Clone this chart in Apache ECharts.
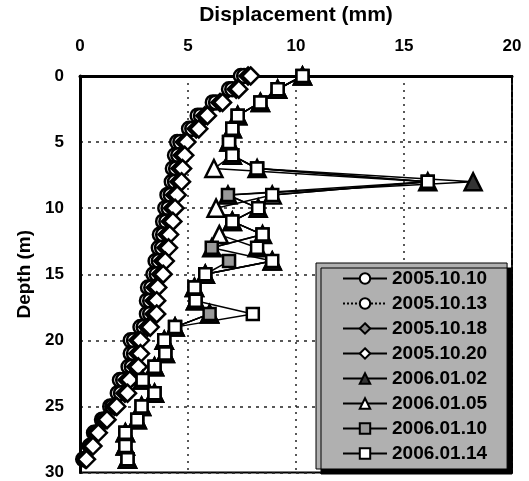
<!DOCTYPE html>
<html>
<head>
<meta charset="utf-8">
<script src="https://cdn.jsdelivr.net/npm/echarts@6/dist/echarts.min.js"></script>
<style>
  html, body { margin: 0; padding: 0; background: #fff; }
  #chart { width: 529px; height: 481px; }
</style>
</head>
<body>
<div id="chart"></div>
<script>
const depth = [0, 1, 2, 3, 4, 5, 6, 7, 8, 9, 10, 11, 12, 13, 14, 15, 16, 17, 18, 19, 20, 21, 22, 23, 24, 25, 26, 27, 28, 29];

// displacement (mm) per depth
const d20051010 = [7.45, 6.9, 6.15, 5.45, 5.05, 4.5, 4.4, 4.3, 4.25, 4.05, 3.95, 3.85, 3.7, 3.65, 3.5, 3.4, 3.15, 3.1, 3.1, 2.8, 2.35, 2.35, 2.25, 1.85, 1.75, 1.4, 1.02, 0.65, 0.45, 0.15];
const d20051013 = [7.6, 7.05, 6.3, 5.6, 5.2, 4.65, 4.55, 4.45, 4.4, 4.2, 4.1, 4.0, 3.85, 3.8, 3.65, 3.55, 3.3, 3.25, 3.25, 2.95, 2.5, 2.5, 2.4, 2.0, 1.9, 1.5, 1.1, 0.72, 0.5, 0.2];
const d20051018 = [7.78, 7.23, 6.48, 5.78, 5.38, 4.83, 4.73, 4.63, 4.58, 4.38, 4.28, 4.18, 4.03, 3.98, 3.83, 3.73, 3.48, 3.43, 3.43, 3.13, 2.68, 2.68, 2.58, 2.18, 2.08, 1.6, 1.17, 0.78, 0.54, 0.25];
const d20051020 = [7.9, 7.35, 6.6, 5.9, 5.5, 4.95, 4.85, 4.75, 4.7, 4.5, 4.4, 4.3, 4.15, 4.1, 3.95, 3.85, 3.6, 3.55, 3.55, 3.25, 2.8, 2.8, 2.7, 2.3, 2.2, 1.7, 1.25, 0.85, 0.6, 0.3];
const d20060102 = [10.3, 9.15, 8.35, 7.3, 7.05, 6.9, 7.05, 8.2, 18.2, 6.85, 8.25, 7.05, 8.45, 6.1, 8.9, 5.8, 5.3, 5.35, 6.0, 4.4, 3.9, 3.95, 3.45, 2.9, 3.45, 2.85, 2.65, 2.1, 2.1, 2.2];
const d20060105 = [10.3, 9.15, 8.35, 7.3, 7.05, 6.9, 7.05, 6.2, 16.1, 8.9, 6.3, 7.05, 6.45, 8.2, 8.9, 5.8, 5.3, 5.35, 6.0, 4.4, 3.9, 3.95, 3.45, 2.9, 3.45, 2.85, 2.65, 2.1, 2.1, 2.2];
const d20060110 = [10.3, 9.15, 8.35, 7.3, 7.05, 6.9, 7.05, 8.2, 16.1, 6.85, 8.25, 7.05, 8.45, 6.1, 6.9, 5.8, 5.3, 5.35, 6.0, 4.4, 3.9, 3.95, 3.45, 2.9, 3.45, 2.85, 2.65, 2.1, 2.1, 2.2];
const d20060114 = [10.3, 9.15, 8.35, 7.3, 7.05, 6.9, 7.05, 8.2, 16.1, 8.9, 8.25, 7.05, 8.45, 8.2, 8.9, 5.8, 5.3, 5.35, 8.0, 4.4, 3.9, 3.95, 3.45, 2.9, 3.45, 2.85, 2.65, 2.1, 2.1, 2.2];

const names = ['2005.10.10', '2005.10.13', '2005.10.18', '2005.10.20', '2006.01.02', '2006.01.05', '2006.01.10', '2006.01.14'];
const values = [d20051010, d20051013, d20051018, d20051020, d20060102, d20060105, d20060110, d20060114];
const symbols = ['circle', 'circle', 'diamond', 'diamond', 'triangle', 'triangle', 'rect', 'rect'];
const sizes = [14, 14, 17, 17, 17, 17, 12, 12];
const fills = ['#fff', '#fff', '#888', '#fff', '#333', '#fff', '#999', '#fff'];
const layer = [2, 2, 2, 2, 3, 2, 4, 4];

const font = "'Liberation Sans', Arial, sans-serif";

const chart = echarts.init(document.getElementById('chart'));

const series = names.map((name, i) => ({
  name: name,
  type: 'line',
  z: layer[i],
  data: depth.map((d, k) => [values[i][k], d]),
  symbol: symbols[i],
  symbolSize: sizes[i],
  showAllSymbol: true,
  clip: false,
  lineStyle: { color: '#000', width: 1.5, type: i === 1 ? 'dotted' : 'solid' },
  itemStyle: { color: fills[i], borderColor: '#000', borderWidth: 2.5 },
  emphasis: { disabled: true }
}));

chart.setOption({
  animation: false,
  backgroundColor: '#fff',
  textStyle: { fontFamily: font },
  grid: { left: 80, top: 73, right: 17, bottom: 3, show: true, borderColor: '#000', borderWidth: 2 },
  xAxis: {
    type: 'value', position: 'top', min: 0, max: 20, interval: 5,
    name: 'Displacement (mm)', nameLocation: 'middle', nameGap: 50,
    nameTextStyle: { fontSize: 21, fontWeight: 'bold', color: '#000', fontFamily: font },
    axisLine: { show: true, lineStyle: { color: '#000', width: 3 } },
    axisTick: { show: false },
    axisLabel: { margin: 21, fontSize: 17, fontWeight: 'bold', color: '#000', fontFamily: font },
    splitLine: { show: true, lineStyle: { color: '#222', width: 1.5, type: [2, 5] } }
  },
  yAxis: {
    type: 'value', inverse: true, min: 0, max: 30, interval: 5,
    name: 'Depth (m)', nameLocation: 'middle', nameGap: 36, nameRotate: 90,
    nameTextStyle: { fontSize: 19, fontWeight: 'bold', color: '#000', fontFamily: font },
    axisLine: { show: true, lineStyle: { color: '#000', width: 3 } },
    axisTick: { show: false },
    axisLabel: { margin: 16, fontSize: 17, fontWeight: 'bold', color: '#000', fontFamily: font },
    splitLine: { show: true, lineStyle: { color: '#222', width: 1.5, type: [3, 5] } }
  },
  legend: {
    orient: 'vertical', left: 316, top: 263, z: 10,
    padding: [6, 20, 6, 26], itemGap: 6, itemWidth: 44, itemHeight: 13,
    backgroundColor: '#b0b0b0', borderColor: '#000', borderWidth: 1,
    shadowColor: '#000', shadowBlur: 0, shadowOffsetX: 5, shadowOffsetY: 5,
    selectedMode: false,
    textStyle: { fontSize: 19, fontWeight: 'bold', color: '#000', fontFamily: font },
    data: names
  },
  series: series
});
</script>
</body>
</html>
